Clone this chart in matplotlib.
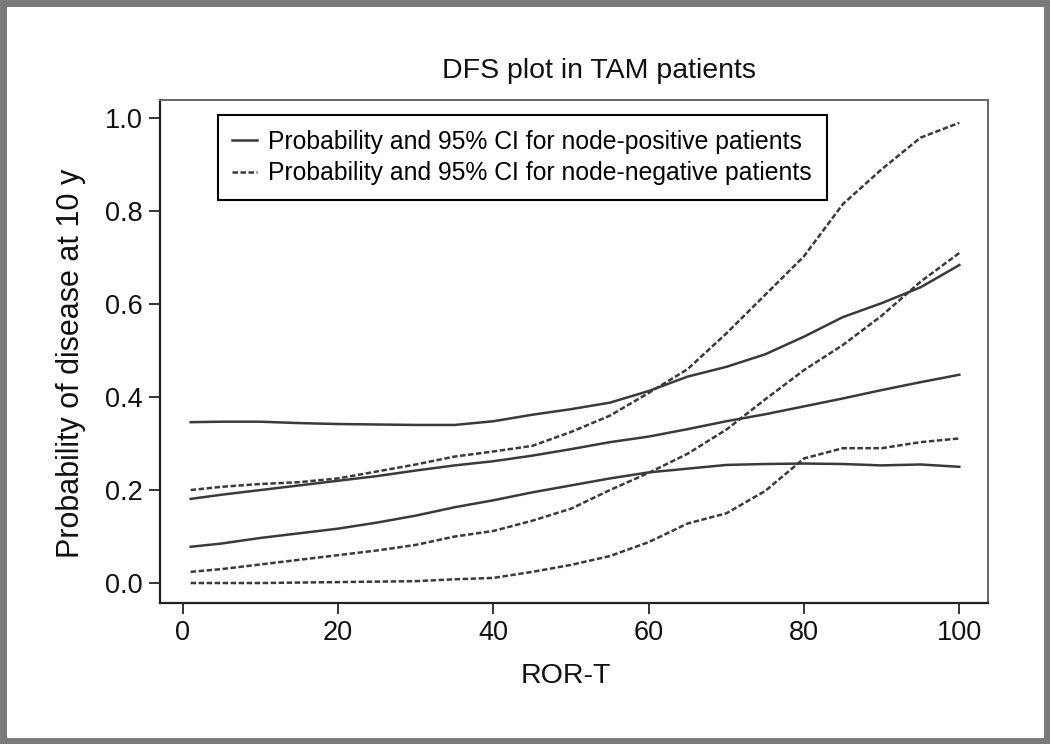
import matplotlib
matplotlib.use('Agg')
import matplotlib.pyplot as plt
from matplotlib.patches import Rectangle

plt.rcParams['font.family'] = ['Liberation Sans', 'DejaVu Sans']

ror_t = [1, 5, 10, 15, 20, 25, 30, 35, 40, 45, 50, 55, 60, 65, 70, 75, 80, 85, 90, 95, 100]

# node-positive patients: estimate and 95% CI
pos_est = [0.181, 0.19, 0.20, 0.21, 0.22, 0.23, 0.242, 0.253, 0.262, 0.274, 0.288, 0.303,
           0.315, 0.331, 0.348, 0.363, 0.38, 0.397, 0.415, 0.432, 0.448]
pos_lo = [0.078, 0.085, 0.097, 0.107, 0.117, 0.13, 0.145, 0.163, 0.178, 0.195, 0.21, 0.225,
          0.238, 0.246, 0.254, 0.256, 0.257, 0.256, 0.253, 0.255, 0.25]
pos_hi = [0.346, 0.347, 0.347, 0.344, 0.342, 0.341, 0.34, 0.34, 0.348, 0.362, 0.374, 0.388,
          0.413, 0.444, 0.465, 0.492, 0.53, 0.572, 0.602, 0.636, 0.684]

# node-negative patients: estimate and 95% CI
neg_est = [0.024, 0.03, 0.04, 0.05, 0.06, 0.07, 0.082, 0.1, 0.112, 0.134, 0.16, 0.2,
           0.237, 0.278, 0.33, 0.395, 0.458, 0.512, 0.575, 0.648, 0.71]
neg_lo = [0.0, 0.0, 0.0, 0.001, 0.002, 0.003, 0.004, 0.008, 0.011, 0.024, 0.039, 0.058,
          0.088, 0.128, 0.15, 0.198, 0.268, 0.29, 0.29, 0.303, 0.311]
neg_hi = [0.2, 0.207, 0.213, 0.217, 0.225, 0.24, 0.255, 0.272, 0.283, 0.295, 0.325, 0.36,
          0.409, 0.46, 0.537, 0.62, 0.703, 0.815, 0.89, 0.958, 0.99]

line_col = '#3a3a3a'
dash = (0, (2.2, 1.0))

fig = plt.figure(figsize=(10.5, 7.44), dpi=100)
ax = fig.add_axes([0.152, 0.1895, 0.789, 0.6761])

ax.plot(ror_t, pos_est, color=line_col, lw=1.8,
        label='Probability and 95% CI for node-positive patients')
ax.plot(ror_t, pos_lo, color=line_col, lw=1.8)
ax.plot(ror_t, pos_hi, color=line_col, lw=1.8)
ax.plot(ror_t, neg_est, color=line_col, lw=1.8, linestyle=dash,
        label='Probability and 95% CI for node-negative patients')
ax.plot(ror_t, neg_lo, color=line_col, lw=1.8, linestyle=dash)
ax.plot(ror_t, neg_hi, color=line_col, lw=1.8, linestyle=dash)

ax.set_xlim(-3, 103.7)
ax.set_ylim(-0.043, 1.039)
ax.set_xticks([0, 20, 40, 60, 80, 100])
ax.set_yticks([0.0, 0.2, 0.4, 0.6, 0.8, 1.0])
ax.set_yticklabels(['0.0', '0.2', '0.4', '0.6', '0.8', '1.0'])
ax.tick_params(direction='out', length=8, width=1.2, labelsize=19.5, colors='#111111', pad=4)

for s in ['left', 'bottom']:
    ax.spines[s].set_linewidth(1.6)
    ax.spines[s].set_color('#222222')
for s in ['top', 'right']:
    ax.spines[s].set_linewidth(1.4)
    ax.spines[s].set_color('#666666')

fig.text(0.539, 0.091, 'ROR-T', fontsize=20.5, ha='center', va='center', color='#111111')
fig.text(0.068, 0.512, 'Probability of disease at 10 y', fontsize=22, rotation=90,
         ha='center', va='center', color='#111111')
fig.text(0.570, 0.904, 'DFS plot in TAM patients', fontsize=20.5, ha='center', va='center',
         color='#111111')

leg = ax.legend(loc='upper left', bbox_to_anchor=(0.070, 0.970), borderaxespad=0,
                fontsize=17.8, handlelength=1.0, handletextpad=0.45, borderpad=0.6,
                labelspacing=0.3, fancybox=False, framealpha=1, edgecolor='black')
leg.get_frame().set_linewidth(1.5)

# grey frame around the whole picture
fig.patches.append(Rectangle((0.0025, 0.0035), 0.995, 0.993, transform=fig.transFigure,
                             fill=False, edgecolor='#7a7a7a', linewidth=5))

fig.savefig('out.png', dpi=100)
